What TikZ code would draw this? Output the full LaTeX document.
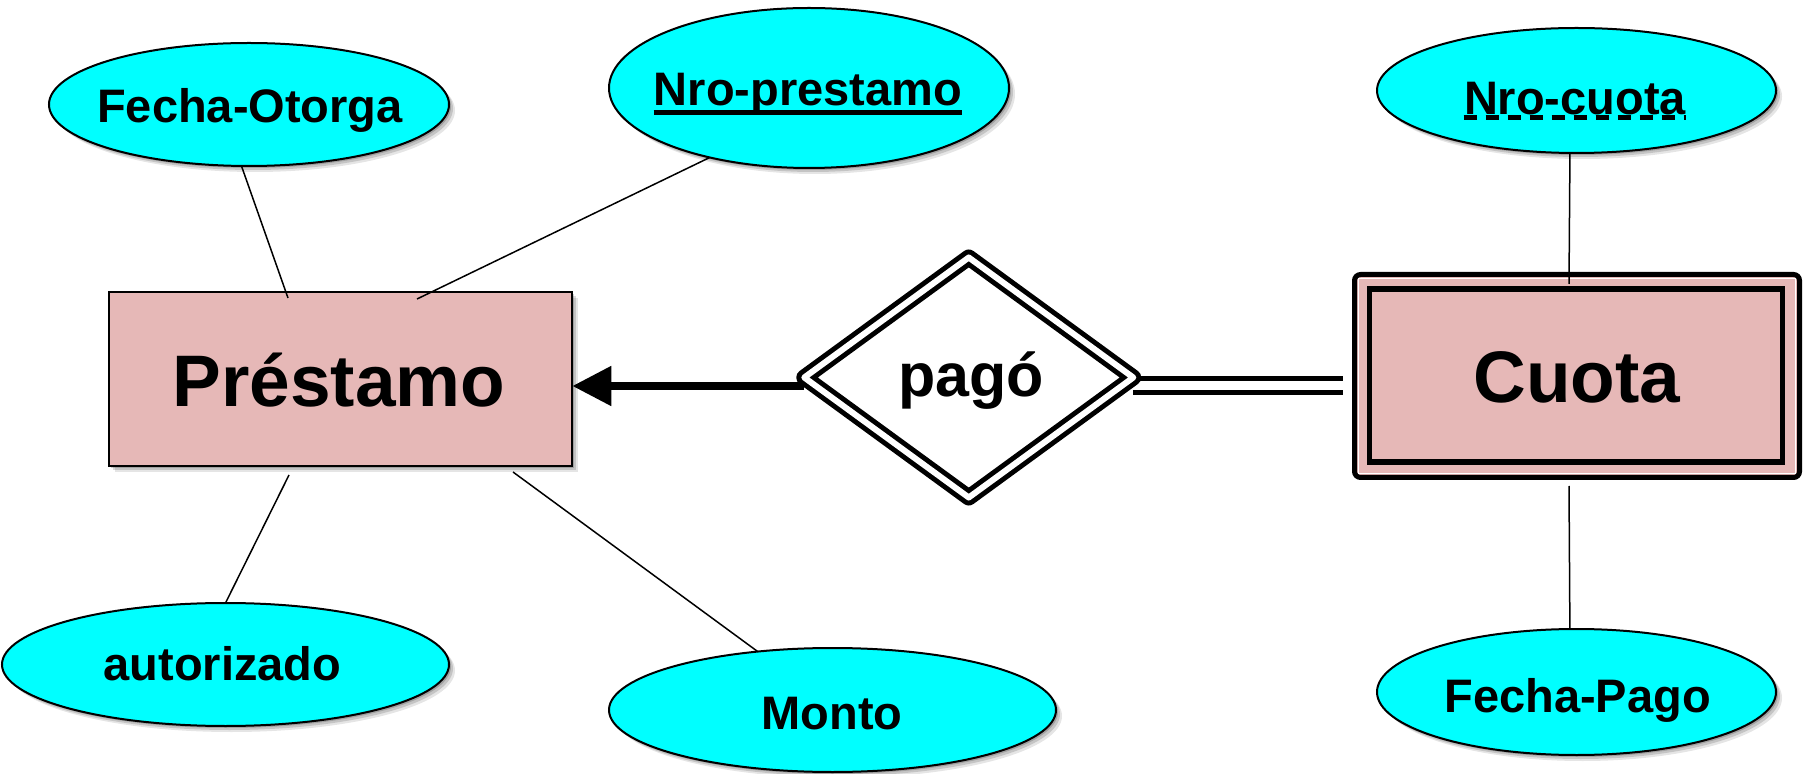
\documentclass[tikz,border=0pt]{standalone}
\usepackage{fontspec}
\setmainfont{Liberation Sans}
\usetikzlibrary{shapes.geometric,arrows.meta}
\definecolor{attrfill}{RGB}{0,255,255}
\definecolor{entfill}{RGB}{230,184,183}
\pgfdeclarelayer{background}
\pgfsetlayers{background,main}

\begin{document}
\begin{tikzpicture}[x=0.5pt,y=-0.5pt,
  % soft drop shadow from stacked translucent offset copies of the shape
  softshadow/.style={
      preaction={fill=black, opacity=0.10, transform canvas={shift={(3pt,-3pt)}}},
      preaction={fill=black, opacity=0.14, transform canvas={shift={(2pt,-2pt)}}},
      preaction={fill=black, opacity=0.18, transform canvas={shift={(1pt,-1pt)}}}},
  attr/.style={ellipse, draw, line width=1pt, fill=attrfill,
      inner sep=0pt, outer sep=0pt, softshadow},
  entbox/.style={rectangle, draw, line width=1pt, fill=entfill,
      inner sep=0pt, outer sep=0pt},
  attrtext/.style={anchor=base, inner sep=0pt,
      font=\fontsize{23.5}{28}\selectfont\bfseries},
  enttext/.style={anchor=base, inner sep=0pt,
      font=\fontsize{36.5}{44}\selectfont\bfseries},
  reltext/.style={anchor=base, inner sep=0pt,
      font=\fontsize{30.5}{36}\selectfont\bfseries},
  attrline/.style={line width=0.75pt},
]

% canvas
\useasboundingbox (0,0) rectangle (1808,774);
\begin{pgfonlayer}{background}
  \fill[white] (0,0) rectangle (1808,774);
\end{pgfonlayer}

% strong entity
\node[entbox, softshadow, minimum width=231.5pt, minimum height=87pt]
  (prest) at (340.8,378.7) {};
\node[enttext] (prest-t) at (339,406.7) {Préstamo};

% weak entity: double border
\node[rectangle, draw, line width=2.5pt, rounded corners=3pt, fill=entfill,
      inner sep=0pt, outer sep=0pt, minimum width=222.5pt, minimum height=101.5pt]
  (cuo) at (1577,376) {};
\draw[white, line width=0.75pt]
  ([shift={(2pt,-2pt)}]cuo.north west) rectangle ([shift={(-2pt,2pt)}]cuo.south east);
\node[rectangle, draw, line width=2.75pt, fill=entfill, inner sep=0pt, outer sep=0pt,
      minimum width=206.5pt, minimum height=86.5pt]
  (cu) at (1576,375.5) {};
\node[enttext] (cu-t) at (1577,403) {Cuota};

% identifying relationship
\node[diamond, draw, line width=2.5pt, double=white, double distance=3pt,
      line join=round, fill=white, inner sep=0pt, outer sep=0pt,
      minimum width=164.5pt, minimum height=120pt]
  (dia) at (968.75,377.5) {};
\node[reltext] (dia-t) at (971,397) {pagó};

% attributes
\node[attr, minimum width=200pt, minimum height=61.5pt] (fo) at (249,104.5) {};
\node[attrtext] (fo-t) at (250,123) {Fecha-Otorga};

\node[attr, minimum width=200pt, minimum height=80pt] (np) at (809,88) {};
\node[attrtext] (np-t) at (808,106) {Nro-prestamo};
\draw[line width=2.25pt] ([yshift=-3.25pt]np-t.base west) -- ([yshift=-3.25pt]np-t.base east);

\node[attr, minimum width=223.5pt, minimum height=61.5pt] (au) at (225.5,664.5) {};
\node[attrtext] (au-t) at (222.5,680) {autorizado};

\node[attr, minimum width=223.5pt, minimum height=62pt] (mo) at (832.5,710) {};
\node[attrtext] (mo-t) at (832,729) {Monto};

\node[attr, minimum width=199.5pt, minimum height=62.5pt] (nc) at (1576.5,90.5) {};
\node[attrtext] (nc-t) at (1575,115) {Nro-cuota};
\draw[line width=2.5pt, dash pattern=on 6.5pt off 4.5pt]
  ([yshift=-1.25pt]nc-t.base west) -- ([yshift=-1.25pt]nc-t.base east);

\node[attr, minimum width=199.5pt, minimum height=63pt] (fp) at (1576.5,692) {};
\node[attrtext] (fp-t) at (1577.5,712) {Fecha-Pago};

% attribute links
\coordinate (p1) at (288,298);
\coordinate (p2) at (417,299);
\coordinate (p3) at (289,475);
\coordinate (p4) at (513,472);
\coordinate (c1) at (1569,284);
\coordinate (c2) at (1569,486);
\draw[attrline] (fo.-97) -- (p1);
\draw[attrline] (np.-145) -- (p2);
\draw[attrline] (au.90) -- (p3);
\draw[attrline] (mo.142.7) -- (p4);
\draw[attrline] (nc.-96.3) -- (c1);
\draw[attrline] (fp.96.7) -- (c2);

% relationship links
\coordinate (aL) at ([yshift=-4.25pt]dia.west);
\coordinate (aR) at ([yshift=-4.25pt]dia.east);
\coordinate (bR) at (aR -| cuo.west);
\begin{pgfonlayer}{background}
  \draw[line width=4pt, -{Triangle[length=19.5pt, width=19pt]}]
    (aL) -- (aL -| prest.east);
  \draw[line width=2.5pt, double=white, double distance=4.5pt]
    (aR) -- ([xshift=-5.75pt]bR);
\end{pgfonlayer}

\end{tikzpicture}
\end{document}
